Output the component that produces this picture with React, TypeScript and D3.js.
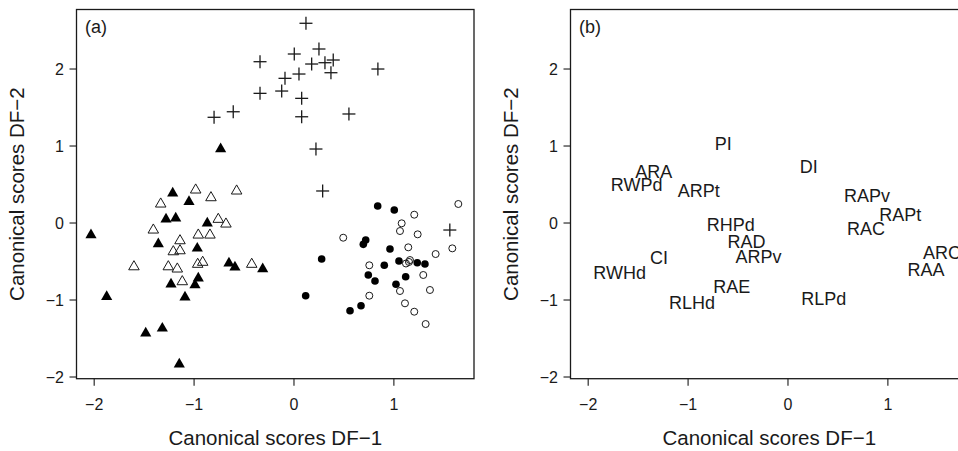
import React from 'react';
import * as d3 from 'd3';

// Panel (a): canonical scores, [DF-1, DF-2]
const filledTriangles: [number, number][] = [
  [-0.734, 0.961], [-1.214, 0.386], [-1.051, 0.277], [-1.281, 0.048], [-1.184, 0.061],
  [-0.868, -0.004], [-2.032, -0.156], [-1.358, -0.273], [-0.968, -0.329], [-0.651, -0.523],
  [-0.591, -0.575], [-0.313, -0.597], [-0.958, -0.718], [-0.991, -0.805], [-1.231, -0.796],
  [-1.091, -0.965], [-1.875, -0.957], [-1.484, -1.432], [-1.318, -1.368], [-1.148, -1.835],
];

const openTriangles: [number, number][] = [
  [-0.984, 0.429], [-0.831, 0.329], [-0.574, 0.416], [-1.334, 0.247], [-0.758, 0.048],
  [-0.681, -0.013], [-1.408, -0.091], [-0.958, -0.156], [-0.841, -0.156], [-1.141, -0.23],
  [-1.208, -0.373], [-1.141, -0.36], [-1.258, -0.568], [-1.168, -0.597], [-0.964, -0.536],
  [-0.914, -0.51], [-0.423, -0.536], [-1.118, -0.762], [-1.602, -0.568],
];

const crosses: [number, number][] = [
  [0.12, 2.594], [0.003, 2.195], [0.25, 2.26], [-0.34, 2.095], [0.393, 2.117],
  [0.177, 2.065], [0.31, 2.082], [0.37, 1.952], [0.05, 1.935], [-0.09, 1.879],
  [-0.34, 1.684], [-0.123, 1.714], [0.077, 1.619], [0.077, 1.38], [-0.608, 1.445],
  [-0.8, 1.373], [0.55, 1.416], [0.84, 2.0], [0.22, 0.961], [0.287, 0.416], [1.56, -0.091],
];

const filledCircles: [number, number][] = [
  [0.838, 0.221], [1.004, 0.169], [0.718, -0.221], [0.694, -0.277], [0.277, -0.468],
  [0.961, -0.338], [1.051, -0.494], [1.234, -0.516], [1.311, -0.532], [0.904, -0.549],
  [0.744, -0.675], [0.811, -0.753], [1.118, -0.697], [1.021, -0.796], [0.671, -1.074],
  [0.561, -1.139], [0.117, -0.944],
];

const openCircles: [number, number][] = [
  [1.645, 0.247], [1.204, 0.108], [1.078, -0.004], [1.061, -0.104], [1.238, -0.147],
  [0.493, -0.191], [1.144, -0.316], [1.585, -0.329], [1.418, -0.403], [1.161, -0.481],
  [1.121, -0.526], [1.151, -0.506], [0.754, -0.549], [1.294, -0.675], [1.361, -0.87],
  [1.061, -0.883], [0.754, -0.944], [1.111, -1.043], [1.204, -1.152], [1.318, -1.312],
];

// Panel (b): variable labels placed at their coefficients
const varNames = [
  'PI', 'ARA', 'RWPd', 'ARPt', 'DI', 'RAPv', 'RAPt', 'RAC', 'RHPd',
  'RAD', 'ARPv', 'CI', 'RWHd', 'RAE', 'RLHd', 'RLPd', 'ARC', 'RAA',
];
const varX = [
  -0.649, -1.344, -1.515, -0.893, 0.207, 0.792, 1.123, 0.782, -0.572,
  -0.414, -0.294, -1.291, -1.685, -0.562, -0.96, 0.358, 1.541, 1.381,
];
const varY = [
  1.026, 0.666, 0.494, 0.42, 0.736, 0.351, 0.104, -0.069, -0.026,
  -0.234, -0.429, -0.442, -0.641, -0.827, -1.03, -0.978, -0.385, -0.602,
];

const xTicks = [-2, -1, 0, 1];
const yTicks = [-2, -1, 0, 1, 2];
const xTitle = 'Canonical scores DF\u22121';
const yTitle = 'Canonical scores DF\u22122';

const W = 958;
const H = 451;
const FONT = '"Liberation Sans", Arial, Helvetica, sans-serif';
const INK = '#1a1a1a';

const plot = { left: 76.5, right: 474, top: 9.5, bottom: 378.7 };
const panelShift = 494;

const fmt = (v: number) => (v < 0 ? '\u2212' + Math.abs(v) : String(v));

const triPath = d3.symbol().type(d3.symbolTriangle).size(54)()!;
const triOpenPath = d3.symbol().type(d3.symbolTriangle).size(48)()!;

function Panel({ dx, tag, children }: { dx: number; tag: string; children: (x: any, y: any) => React.ReactNode }) {
  const x = d3.scaleLinear().domain([-2.177, 1.802]).range([plot.left, plot.right]);
  const y = d3.scaleLinear().domain([-2.022, 2.773]).range([plot.bottom, plot.top]);
  const cx = (plot.left + plot.right) / 2;
  const cy = (plot.top + plot.bottom) / 2;
  return (
    <g transform={`translate(${dx},0)`} fontFamily={FONT} fill={INK}>
      <rect x={plot.left} y={plot.top} width={plot.right - plot.left} height={plot.bottom - plot.top}
        fill="none" stroke={INK} strokeWidth={1.3} />
      {xTicks.map((t) => (
        <g key={'x' + t}>
          <line x1={x(t)} x2={x(t)} y1={plot.bottom} y2={plot.bottom + 7} stroke={INK} strokeWidth={1.1} />
          <text x={x(t)} y={410} textAnchor="middle" fontSize={16}>{fmt(t)}</text>
        </g>
      ))}
      {yTicks.map((t) => (
        <g key={'y' + t}>
          <line x1={plot.left - 7} x2={plot.left} y1={y(t)} y2={y(t)} stroke={INK} strokeWidth={1.1} />
          <text x={64} y={y(t)} dy="0.36em" textAnchor="end" fontSize={16}>{fmt(t)}</text>
        </g>
      ))}
      <text x={cx} y={445} textAnchor="middle" fontSize={20.5}>{xTitle}</text>
      <text transform={`translate(24,${cy}) rotate(-90)`} textAnchor="middle" fontSize={20.5}>{yTitle}</text>
      <text x={plot.left + 8.5} y={33} fontSize={18}>{tag}</text>
      {children(x, y)}
    </g>
  );
}

export default function App() {
  return (
    <svg width={W} height={H} style={{ position: 'absolute', left: 0, top: 0, background: '#fff' }}>
      <rect width={W} height={H} fill="#fff" />
      <Panel dx={0} tag="(a)">
        {(x, y) => (
          <g>
            {openTriangles.map(([a, b], i) => (
              <path key={'ot' + i} d={triOpenPath} transform={`translate(${x(a)},${y(b)})`}
                fill="none" stroke={INK} strokeWidth={1} />
            ))}
            {filledTriangles.map(([a, b], i) => (
              <path key={'ft' + i} d={triPath} transform={`translate(${x(a)},${y(b)})`} fill="#000" />
            ))}
            {crosses.map(([a, b], i) => (
              <g key={'c' + i} stroke={INK} strokeWidth={1.3}>
                <line x1={x(a) - 6.5} x2={x(a) + 6.5} y1={y(b)} y2={y(b)} />
                <line x1={x(a)} x2={x(a)} y1={y(b) - 6.5} y2={y(b) + 6.5} />
              </g>
            ))}
            {openCircles.map(([a, b], i) => (
              <circle key={'oc' + i} cx={x(a)} cy={y(b)} r={3.5} fill="none" stroke={INK} strokeWidth={1} />
            ))}
            {filledCircles.map(([a, b], i) => (
              <circle key={'fc' + i} cx={x(a)} cy={y(b)} r={3.8} fill="#000" />
            ))}
          </g>
        )}
      </Panel>
      <Panel dx={panelShift} tag="(b)">
        {(x, y) => (
          <g fontSize={18}>
            {varNames.map((n, i) => (
              <text key={n} x={x(varX[i])} y={y(varY[i])} dy="0.36em" textAnchor="middle">{n}</text>
            ))}
          </g>
        )}
      </Panel>
    </svg>
  );
}
